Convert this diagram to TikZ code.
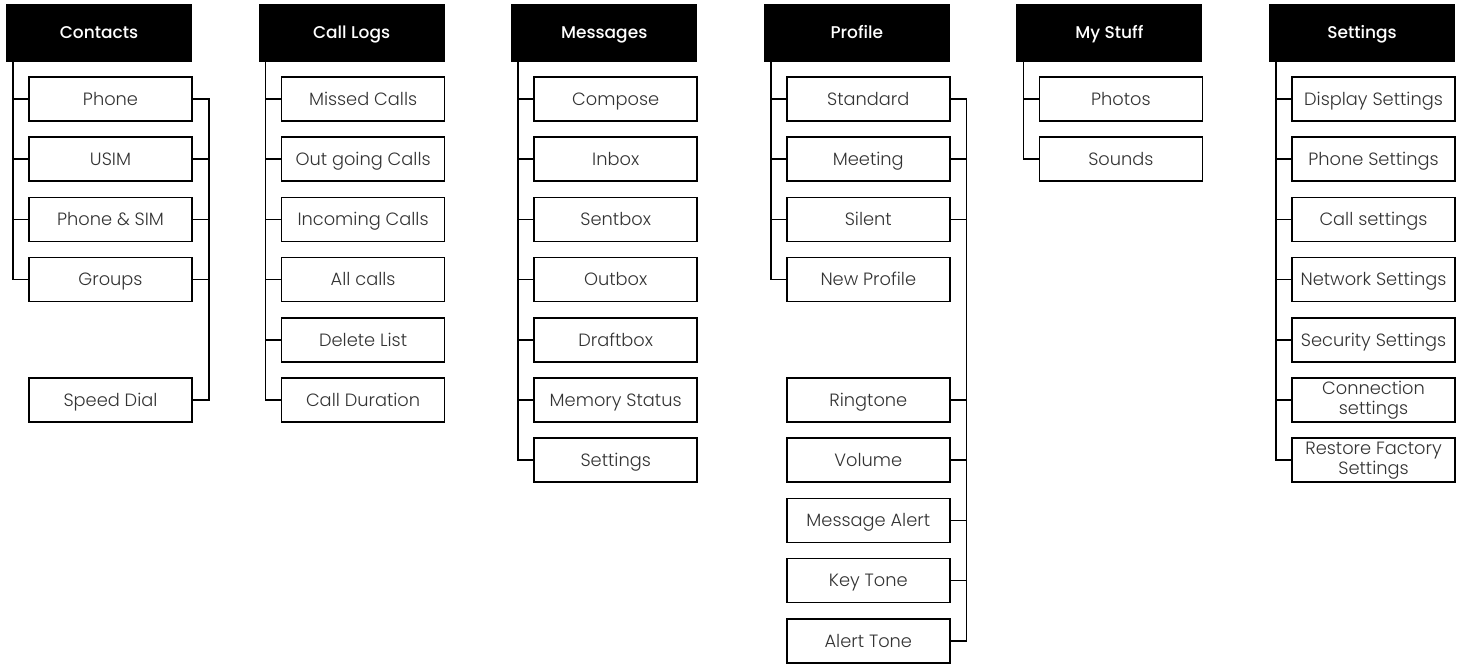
\documentclass[tikz,border=0pt]{standalone}
\usepackage{fontspec}
\setmainfont{Poppins}[UprightFont=* Light]
\newfontfamily\headfont{Poppins}[UprightFont=* Medium]
\usetikzlibrary{positioning}

\begin{document}
\begin{tikzpicture}[x=1pt, y=1pt, line width=1.6pt, node distance=16.2pt,
    head/.style={fill=black, text=white, outer sep=0pt, minimum width=186pt, minimum height=58pt, inner sep=0pt, text height=12pt, text depth=0pt, font=\fontsize{17}{19}\headfont},
    box/.style={draw, text=black!80, outer sep=0pt, minimum width=163pt, minimum height=44pt, inner sep=1pt, align=center, font=\fontsize{17.8}{20}\selectfont},
    item/.style={box, text height=12.5pt, text depth=0pt}]
    \useasboundingbox (0,0) rectangle (1461,664);

    % Các tiêu đề menu chính
    \node[head] (contacts) at (99,631) {Contacts};
    \node[head] (calllogs) at (351.6,631) {Call Logs};
    \node[head] (messages) at (604.2,631) {Messages};
    \node[head] (profile) at (856.8,631) {Profile};
    \node[head] (mystuff) at (1109.4,631) {My Stuff};
    \node[head] (settings) at (1362,631) {Settings};

    % Contacts
    \node[item, below=15pt of contacts, xshift=11.5pt] (phone) {Phone};
    \node[item, below=of phone] (usim) {USIM};
    \node[item, below=of usim] (phonesim) {Phone \& SIM};
    \node[item, below=of phonesim] (groups) {Groups};
    \node[item, below=76.4pt of groups] (speeddial) {Speed Dial};

    % Call Logs
    \node[item, below=15pt of calllogs, xshift=11.5pt] (missed) {Missed Calls};
    \node[item, below=of missed] (outgoing) {Out going Calls};
    \node[item, below=of outgoing] (incoming) {Incoming Calls};
    \node[item, below=of incoming] (allcalls) {All calls};
    \node[item, below=of allcalls] (deletelist) {Delete List};
    \node[item, below=of deletelist] (duration) {Call Duration};

    % Messages
    \node[item, below=15pt of messages, xshift=11.5pt] (compose) {Compose};
    \node[item, below=of compose] (inbox) {Inbox};
    \node[item, below=of inbox] (sentbox) {Sentbox};
    \node[item, below=of sentbox] (outbox) {Outbox};
    \node[item, below=of outbox] (draftbox) {Draftbox};
    \node[item, below=of draftbox] (memory) {Memory Status};
    \node[item, below=of memory] (msgsettings) {Settings};

    % Profile
    \node[item, below=15pt of profile, xshift=11.5pt] (standard) {Standard};
    \node[item, below=of standard] (meeting) {Meeting};
    \node[item, below=of meeting] (silent) {Silent};
    \node[item, below=of silent] (newprofile) {New Profile};
    \node[item, below=76.4pt of newprofile] (ringtone) {Ringtone};
    \node[item, below=of ringtone] (volume) {Volume};
    \node[item, below=of volume] (msgalert) {Message Alert};
    \node[item, below=of msgalert] (keytone) {Key Tone};
    \node[item, below=of keytone] (alerttone) {Alert Tone};

    % My Stuff
    \node[item, below=15pt of mystuff, xshift=11.5pt] (photos) {Photos};
    \node[item, below=of photos] (sounds) {Sounds};

    % Settings
    \node[item, below=15pt of settings, xshift=11.5pt] (display) {Display Settings};
    \node[item, below=of display] (phoneset) {Phone Settings};
    \node[item, below=of phoneset] (callset) {Call settings};
    \node[item, below=of callset] (network) {Network Settings};
    \node[item, below=of network] (security) {Security Settings};
    \node[box, below=of security] (connection) {Connection\\settings};
    \node[box, below=of connection] (restore) {Restore Factory\\Settings};

    % Đường nối trục bên trái
    \foreach \n in {phone, usim, phonesim, groups}
        \draw ([xshift=7pt]contacts.south west) |- (\n.west);
    \foreach \n in {missed, outgoing, incoming, allcalls, deletelist, duration}
        \draw ([xshift=7pt]calllogs.south west) |- (\n.west);
    \foreach \n in {compose, inbox, sentbox, outbox, draftbox, memory, msgsettings}
        \draw ([xshift=7pt]messages.south west) |- (\n.west);
    \foreach \n in {standard, meeting, silent, newprofile}
        \draw ([xshift=7pt]profile.south west) |- (\n.west);
    \foreach \n in {photos, sounds}
        \draw ([xshift=7pt]mystuff.south west) |- (\n.west);
    \foreach \n in {display, phoneset, callset, network, security, connection, restore}
        \draw ([xshift=7pt]settings.south west) |- (\n.west);

    % Đường nối bên phải
    \draw (phone.east) -- ++(16.7,0) |- (speeddial.east);
    \foreach \n in {usim, phonesim, groups}
        \draw (\n.east) -- ++(16.7,0);
    \draw (standard.east) -- ++(16.7,0) |- (alerttone.east);
    \foreach \n in {meeting, silent, ringtone, volume, msgalert, keytone}
        \draw (\n.east) -- ++(16.7,0);
\end{tikzpicture}
\end{document}
